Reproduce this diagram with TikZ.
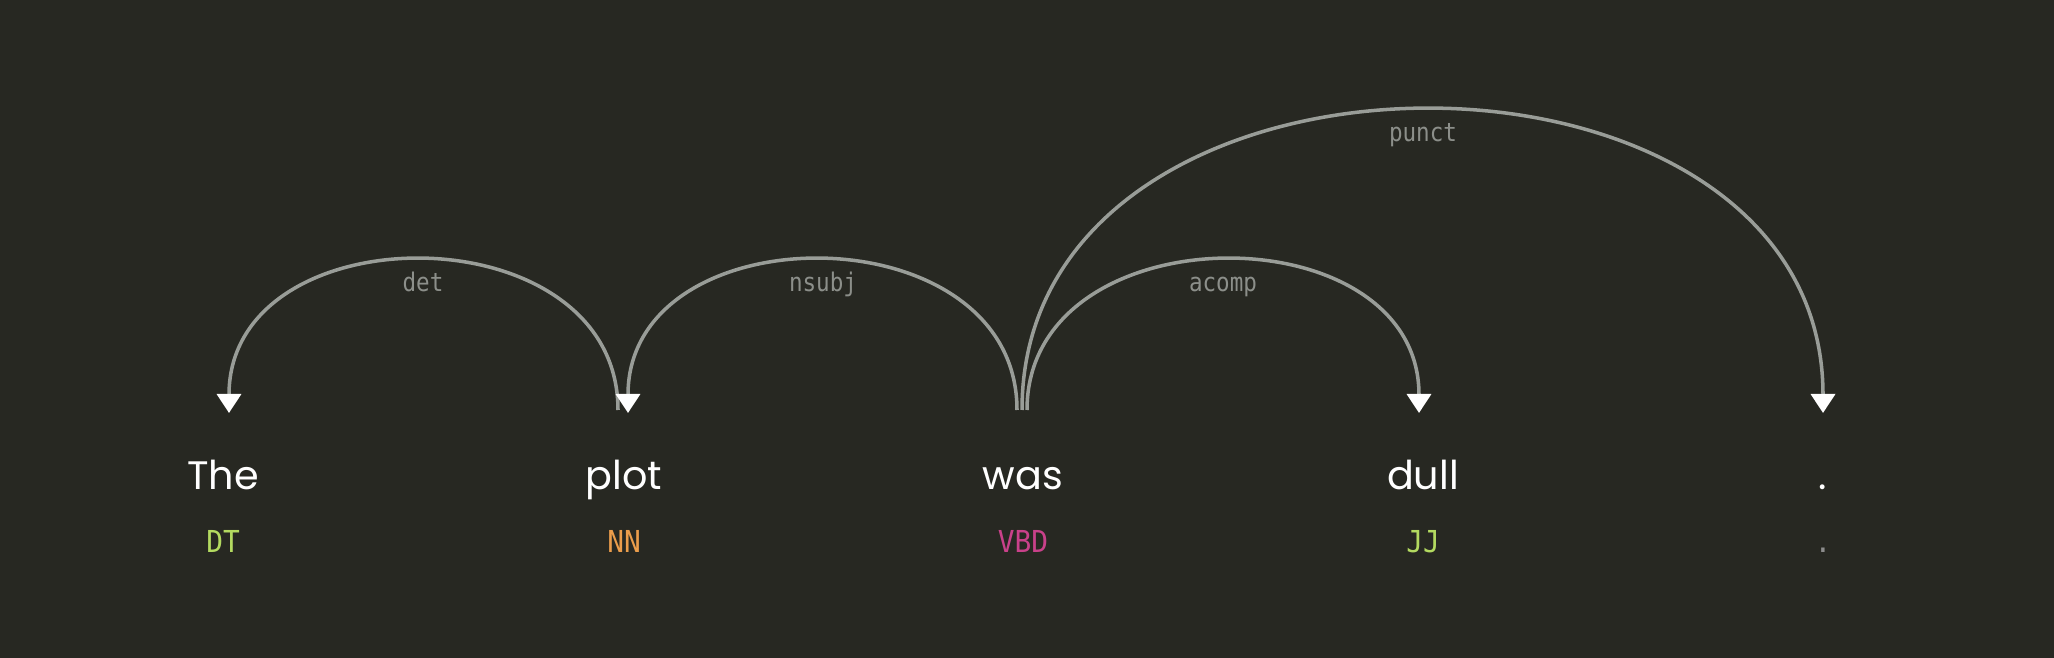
\documentclass[tikz,border=0pt]{standalone}
\usepackage{fontspec}
\setmainfont{Poppins}
\newfontfamily\tagfont[FakeStretch=0.92]{DejaVu Sans Mono}
\newfontfamily\relfont[FakeStretch=0.88]{DejaVu Sans Mono}
\usetikzlibrary{arrows.meta,positioning}
\definecolor{bg}{HTML}{272822}
\definecolor{arcgray}{HTML}{999D98}
\definecolor{relgray}{HTML}{8C8F8A}
\definecolor{tagdt}{HTML}{B3DA60}
\definecolor{tagnn}{HTML}{EB9D4B}
\definecolor{tagvbd}{HTML}{C9418A}
\definecolor{tagdot}{HTML}{8C8C8C}
\tikzset{
  word/.style={anchor=base, text=white, inner sep=0pt, font=\fontsize{11.3}{14}\selectfont},
  postag/.style={anchor=base, inner sep=0pt, font=\tagfont\fontsize{8.6}{10}\selectfont},
  rel/.style={anchor=base, text=relgray, inner sep=0pt, font=\relfont\fontsize{7.3}{9}\selectfont},
  deparc/.style={draw=arcgray, line width=1pt},
  head/.style={-{Triangle[width=0.24cm,length=0.19cm,color=white]}},
}

\begin{document}
\begin{tikzpicture}[x=0.01cm, y=-0.01cm]
\fill[bg] (0,0) rectangle (2054,658);
% Words of the sentence
\node[word] (the)  at (223,490)  {The};
\node[word] (plot) at (624,490)  {plot};
\node[word] (was)  at (1023,490) {was};
\node[word] (dull) at (1423,490) {dull};
\node[word] (dot)  at (1823,490) {.};
% Part-of-speech tags
\node[postag, text=tagdt]  (the-tag)  at (223,553)  {DT};
\node[postag, text=tagnn]  (plot-tag) at (624,553)  {NN};
\node[postag, text=tagvbd] (was-tag)  at (1023,553) {VBD};
\node[postag, text=tagdt]  (dull-tag) at (1423,553) {JJ};
\node[postag, text=tagdot] (dot-tag)  at (1823,553) {.};
% Feet of the arcs
\coordinate (det-s)   at (618,410);
\coordinate (det-e)   at (229,413);
\coordinate (nsubj-s) at (1017,410);
\coordinate (nsubj-e) at (628,413);
\coordinate (punct-s) at (1022,410);
\coordinate (punct-e) at (1823,413);
\coordinate (acomp-s) at (1027,410);
\coordinate (acomp-e) at (1419,413);
% Dependency arcs
\draw[deparc, head] (det-s) .. controls +(0,-200) and +(0,-203) .. (det-e);
\draw[deparc, head] (nsubj-s) .. controls +(0,-200) and +(0,-203) .. (nsubj-e);
\draw[deparc, head] (acomp-s) .. controls +(0,-200) and +(0,-203) .. (acomp-e);
\draw[deparc, head] (punct-s) .. controls +(0,-400) and +(0,-403) .. (punct-e);
% Arc labels
\node[rel] (det-lbl)   at (423,292)  {det};
\node[rel] (nsubj-lbl) at (823,292)  {nsubj};
\node[rel] (acomp-lbl) at (1223,292) {acomp};
\node[rel] (punct-lbl) at (1423,142) {punct};
\end{tikzpicture}
\end{document}
